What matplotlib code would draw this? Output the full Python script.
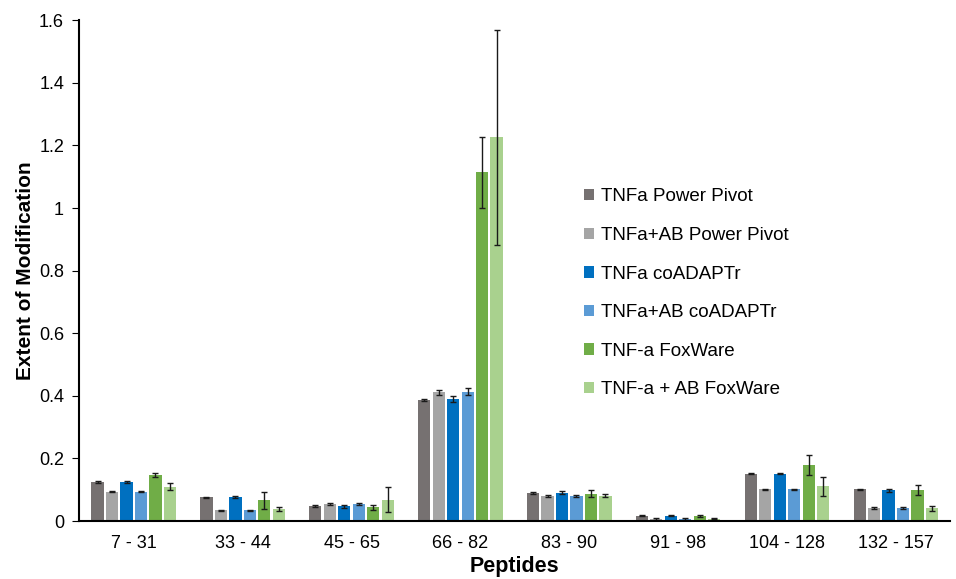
import numpy as np
from matplotlib import pyplot as plt

plt.rcParams["font.family"] = ["Liberation Sans", "DejaVu Sans"]

# peptide groups on the x axis
peptides = ["7 - 31", "33 - 44", "45 - 65", "66 - 82", "83 - 90", "91 - 98", "104 - 128", "132 - 157"]

series_names = [
    "TNFa Power Pivot",
    "TNFa+AB Power Pivot",
    "TNFa coADAPTr",
    "TNFa+AB coADAPTr",
    "TNF-a FoxWare",
    "TNF-a + AB FoxWare",
]
series_colors = ["#767171", "#A5A5A5", "#0070C0", "#5B9BD5", "#70AD47", "#A9D18E"]

# extent of modification per series (one value per peptide)
tnfa_pp = [0.125, 0.076, 0.048, 0.387, 0.090, 0.017, 0.152, 0.102]
tnfa_ab_pp = [0.094, 0.035, 0.055, 0.411, 0.080, 0.007, 0.102, 0.042]
tnfa_co = [0.125, 0.077, 0.047, 0.390, 0.090, 0.017, 0.152, 0.098]
tnfa_ab_co = [0.094, 0.035, 0.055, 0.413, 0.081, 0.007, 0.101, 0.042]
tnfa_fox = [0.147, 0.066, 0.044, 1.114, 0.088, 0.016, 0.178, 0.100]
tnfa_ab_fox = [0.110, 0.038, 0.069, 1.226, 0.081, 0.008, 0.111, 0.041]

# error bars
err_tnfa_pp = [0.002, 0.002, 0.002, 0.003, 0.002, 0.002, 0.002, 0.002]
err_tnfa_ab_pp = [0.002, 0.002, 0.002, 0.008, 0.002, 0.002, 0.002, 0.002]
err_tnfa_co = [0.002, 0.004, 0.004, 0.010, 0.005, 0.002, 0.002, 0.006]
err_tnfa_ab_co = [0.002, 0.002, 0.002, 0.011, 0.003, 0.002, 0.002, 0.002]
err_tnfa_fox = [0.006, 0.027, 0.008, 0.114, 0.010, 0.003, 0.032, 0.016]
err_tnfa_ab_fox = [0.011, 0.007, 0.040, 0.344, 0.004, 0.002, 0.030, 0.008]

values = [tnfa_pp, tnfa_ab_pp, tnfa_co, tnfa_ab_co, tnfa_fox, tnfa_ab_fox]
errors = [err_tnfa_pp, err_tnfa_ab_pp, err_tnfa_co, err_tnfa_ab_co, err_tnfa_fox, err_tnfa_ab_fox]

fig = plt.figure(figsize=(9.56, 5.79), dpi=100)
ax = fig.add_axes([0.083, 0.1, 0.911, 0.865])

x = np.arange(len(peptides))
slot = 0.133
bar_w = 0.112
for i, (name, color, vals, errs) in enumerate(zip(series_names, series_colors, values, errors)):
    ax.bar(
        x + (i - 2.5) * slot,
        vals,
        width=bar_w,
        color=color,
        label=name,
        yerr=errs,
        error_kw=dict(ecolor="#1a1a1a", elinewidth=1.0, capsize=2.5, capthick=1.0),
    )

ax.set_xlim(-0.5, len(peptides) - 0.5)
ax.set_ylim(0, 1.6)
ax.set_yticks(np.arange(0, 1.61, 0.2))
ax.set_yticklabels(["0", "0.2", "0.4", "0.6", "0.8", "1", "1.2", "1.4", "1.6"])
ax.set_xticks(x)
ax.set_xticklabels(peptides, fontsize=13)
ax.tick_params(axis="x", length=0, pad=10)
ax.tick_params(axis="y", labelsize=13, length=5, direction="out", pad=6)

for side in ["top", "right"]:
    ax.spines[side].set_visible(False)
ax.spines["left"].set_linewidth(1.5)
ax.spines["bottom"].set_linewidth(1.5)

ax.set_ylabel("Extent of Modification", fontsize=15, fontweight="bold", labelpad=3)
ax.set_xlabel("Peptides", fontsize=15.5, fontweight="bold", labelpad=3)

ax.legend(
    loc="upper left",
    bbox_to_anchor=(0.56, 0.698),
    frameon=False,
    fontsize=13.5,
    labelspacing=1.15,
    handlelength=0.55,
    handleheight=0.55,
    handletextpad=0.35,
)

fig.savefig("out.png", dpi=100)
